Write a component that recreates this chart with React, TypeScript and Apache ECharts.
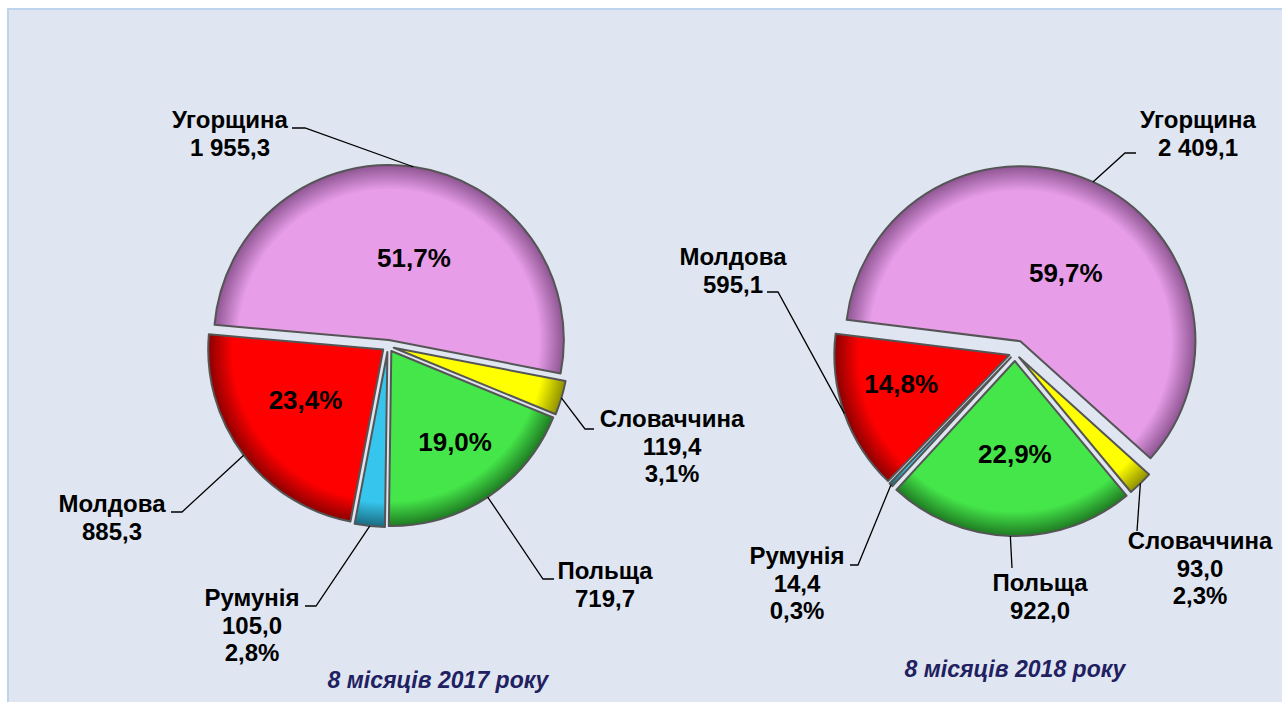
import React, { useEffect, useRef } from "react";
import * as echarts from "echarts";

// ---- data ----
const countries = ["Угорщина", "Словаччина", "Польща", "Румунія", "Молдова"];
const values2017 = [1955.3, 119.4, 719.7, 105.0, 885.3];
const values2018 = [2409.1, 93.0, 922.0, 14.4, 595.1];
const percents2017 = [51.7, 3.1, 19.0, 2.8, 23.4];
const percents2018 = [59.7, 2.3, 22.9, 0.3, 14.8];
const smallSlice = [false, true, false, true, false];
const periodLabels = ["8 місяців 2017 року", "8 місяців 2018 року"];

// ---- styles ----
const sliceColors = ["#E79DE8", "#FFFF00", "#45E64A", "#36C5EC", "#FF0000"];
const sliceDark = ["#8E5592", "#8F8F00", "#1E7A22", "#1A6A80", "#8C0000"];
const FONT = '"Liberation Sans", Arial, sans-serif';

type OutLabel = { x: number; y: number; elbow: number[]; end: number[] };

const pieLayouts = [
  {
    values: values2017,
    percents: percents2017,
    cx: 388,
    cy: 346,
    r: 175,
    startAngle: 175,
    offsets: [6, 6, 6, 6, 6],
    inner: [
      { f: 0.49, da: -9 },
      { f: 0.5, da: 0 },
      { f: 0.635, da: 1.6 },
      { f: 0.5, da: 0 },
      { f: 0.53, da: -4 },
    ],
    out: [
      { x: 230, y: 106, elbow: [305, 128], end: [292, 128] },
      { x: 672, y: 405, elbow: [585, 429], end: [594, 429] },
      { x: 605, y: 557, elbow: [543, 579], end: [554, 579] },
      { x: 252, y: 584, elbow: [316, 606], end: [305, 606] },
      { x: 112, y: 490, elbow: [182, 512], end: [171, 512] },
    ] as OutLabel[],
    footer: { x: 438, y: 680 },
  },
  {
    values: values2018,
    percents: percents2018,
    cx: 1015,
    cy: 353,
    r: 175,
    startAngle: 173,
    offsets: [13, 6, 8, 6, 6],
    inner: [
      { f: 0.47, da: -9 },
      { f: 0.5, da: 0 },
      { f: 0.53, da: 1.5 },
      { f: 0.5, da: 0 },
      { f: 0.64, da: -4.6 },
    ],
    out: [
      { x: 1198, y: 106, elbow: [1125, 153], end: [1136, 153] },
      { x: 1200, y: 527, elbow: [1137, 531], end: [1137, 531] },
      { x: 1040, y: 569, elbow: [1012, 568], end: [1012, 568] },
      { x: 797, y: 542, elbow: [858, 565], end: [850, 565] },
      { x: 733, y: 243, elbow: [778, 292], end: [767, 292] },
    ] as OutLabel[],
    footer: { x: 1015, y: 669 },
  },
];

const fmtNum = (v: number) => {
  const [i, d] = v.toFixed(1).split(".");
  return i.replace(/\B(?=(\d{3})+(?!\d))/g, " ") + "," + d;
};
const fmtPct = (p: number) => p.toFixed(1).replace(".", ",") + "%";

function midAngles(values: number[], start: number) {
  const total = values.reduce((a, b) => a + b, 0);
  let acc = 0;
  return values.map((v) => {
    const m = start - ((acc + v / 2) / total) * 360;
    acc += v;
    return m;
  });
}

function buildSeries() {
  const series: any[] = [];
  pieLayouts.forEach((p) => {
    const mids = midAngles(p.values, p.startAngle);
    // one series per visible (exploded) slice
    p.values.forEach((_, i) => {
      const rad = (mids[i] * Math.PI) / 180;
      const scx = p.cx + p.offsets[i] * Math.cos(rad);
      const scy = p.cy - p.offsets[i] * Math.sin(rad);
      series.push({
        type: "pie",
        silent: true,
        clockwise: true,
        startAngle: p.startAngle,
        center: [scx, scy],
        radius: p.r,
        avoidLabelOverlap: false,
        z: 2,
        label: {
          show: false,
          position: "inside",
          color: "#000",
          fontFamily: FONT,
          fontWeight: "bold",
          fontSize: 26,
        },
        labelLine: { show: false },
        labelLayout: (params: any) => {
          if (params.dataIndex !== i) return {};
          const a = ((mids[i] + p.inner[i].da) * Math.PI) / 180;
          const d = p.inner[i].f * p.r;
          return {
            x: scx + d * Math.cos(a),
            y: scy - d * Math.sin(a),
            align: "center",
            verticalAlign: "middle",
          };
        },
        data: p.values.map((v, j) =>
          j === i
            ? {
                value: v,
                name: countries[j],
                itemStyle: {
                  color: {
                    type: "radial",
                    x: scx,
                    y: scy,
                    r: p.r,
                    global: true,
                    colorStops: [
                      { offset: 0, color: sliceColors[j] },
                      { offset: 0.86, color: sliceColors[j] },
                      { offset: 1, color: sliceDark[j] },
                    ],
                  },
                  borderColor: "#555555",
                  borderWidth: 2,
                },
                label: {
                  show: !smallSlice[j],
                  formatter: () => fmtPct(p.percents[j]),
                },
              }
            : {
                value: v,
                name: countries[j],
                itemStyle: { color: "rgba(0,0,0,0)", borderWidth: 0 },
                label: { show: false },
              }
        ),
      });
    });
    // overlay series for the outside labels and leader lines
    series.push({
      type: "pie",
      silent: true,
      clockwise: true,
      startAngle: p.startAngle,
      center: [p.cx, p.cy],
      radius: p.r,
      avoidLabelOverlap: false,
      z: 5,
      label: {
        show: true,
        position: "outside",
        color: "#000",
        fontFamily: FONT,
        fontWeight: "bold",
        fontSize: 24,
        lineHeight: 27.5,
        width: 240,
        overflow: "none",
        align: "center",
      },
      labelLine: {
        show: true,
        length: 10,
        length2: 10,
        lineStyle: { color: "#000", width: 1.3 },
      },
      labelLayout: (params: any) => {
        const i = params.dataIndex;
        const L = p.out[i];
        const a = (mids[i] * Math.PI) / 180;
        const R = p.r + p.offsets[i];
        const sx = p.cx + R * Math.cos(a);
        const sy = p.cy - R * Math.sin(a);
        return {
          x: L.x,
          y: L.y,
          align: "center",
          verticalAlign: "top",
          labelLinePoints: [[sx, sy], L.elbow, L.end],
        };
      },
      data: p.values.map((v, j) => ({
        value: v,
        name: countries[j],
        itemStyle: { color: "rgba(0,0,0,0)", borderWidth: 0 },
        label: {
          formatter: () =>
            countries[j] +
            "\n" +
            fmtNum(v) +
            (smallSlice[j] ? "\n" + fmtPct(p.percents[j]) : ""),
        },
      })),
    });
  });
  return series;
}

export default function App() {
  const ref = useRef<HTMLDivElement>(null);
  useEffect(() => {
    if (!ref.current) return;
    const chart = echarts.init(ref.current, undefined, { renderer: "svg" });
    chart.setOption({
      animation: false,
      backgroundColor: "transparent",
      series: buildSeries(),
      graphic: pieLayouts.map((p, k) => ({
        type: "text",
        x: p.footer.x,
        y: p.footer.y,
        silent: true,
        style: {
          text: periodLabels[k],
          align: "center",
          verticalAlign: "middle",
          fill: "#1F2160",
          font: `italic bold 23px ${FONT}`,
        },
      })),
    });
    return () => chart.dispose();
  }, []);
  return (
    <>
      <div
        style={{
          position: "fixed",
          left: 7,
          top: 8,
          width: 1275,
          height: 694,
          background: "#DFE6F2",
          borderTop: "2px solid #BDD5EC",
          borderLeft: "2px solid #BDD5EC",
          boxSizing: "border-box",
        }}
      />
      <div
        ref={ref}
        style={{ position: "fixed", left: 0, top: 0, width: 1282, height: 702 }}
      />
    </>
  );
}
